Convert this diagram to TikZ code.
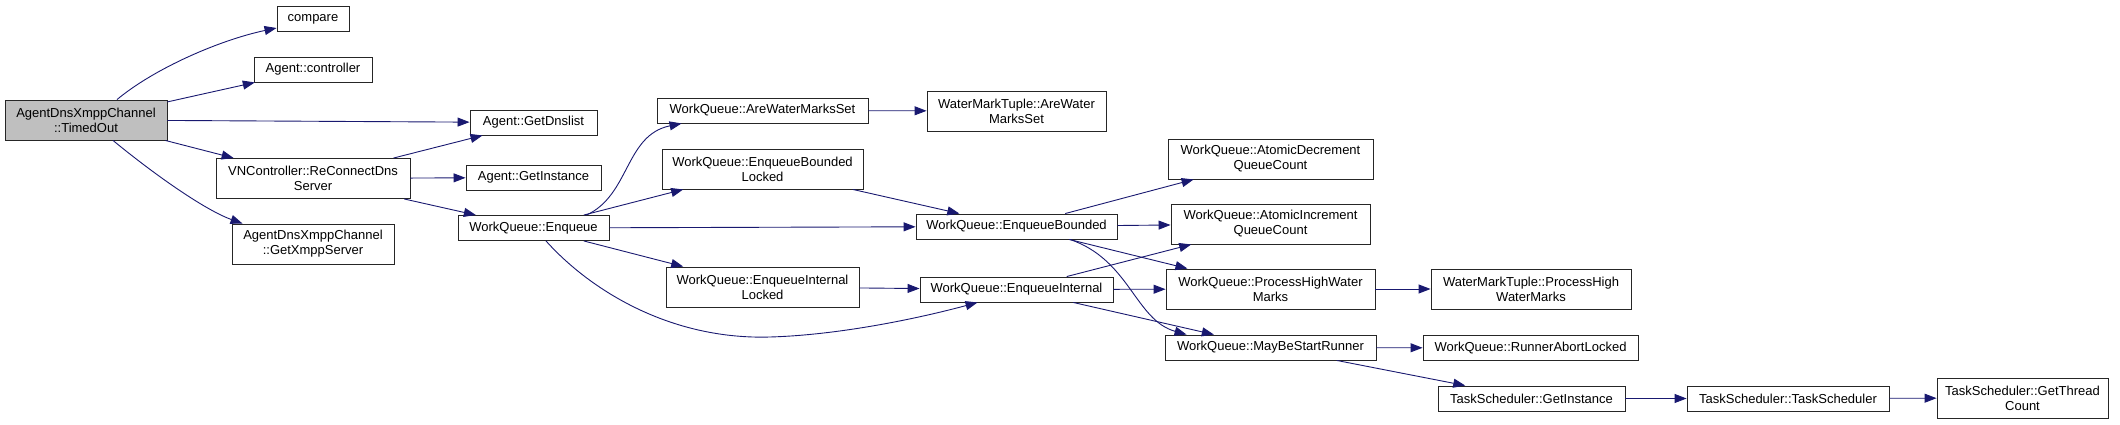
\documentclass[tikz,border=0pt]{standalone}
\usepackage{fontspec}
\setmainfont{Liberation Sans}
\usetikzlibrary{arrows.meta, positioning}
\definecolor{callblue}{HTML}{191970}

\begin{document}
\begin{tikzpicture}[x=1pt, y=1pt,
  >={Triangle[length=12pt, width=9pt]},
  fn/.style={draw=black!85, line width=0.9pt, font=\fontsize{13}{15}\selectfont, inner sep=2pt, minimum height=25pt, align=center},
  two/.style={fn, minimum height=40pt},
  root/.style={two, fill=gray!50},
  call/.style={->, draw=callblue, line width=0.9pt}]
\useasboundingbox (0,0) rectangle (2120,-425);
% functions
\node[root, minimum width=162pt] (timed) at (86,-120) {AgentDnsXmppChannel\\::TimedOut};
\node[fn, minimum width=72pt] (cmp) at (313,-19) {compare};
\node[fn, minimum width=118pt] (ctrl) at (313,-69.5) {Agent::controller};
\node[two, minimum width=194pt] (reconn) at (313,-178.5) {VNController::ReConnectDns\\Server};
\node[two, minimum width=162pt] (xmpp) at (313,-244) {AgentDnsXmppChannel\\::GetXmppServer};
\node[fn, minimum width=127pt] (dnslist) at (533.5,-122.5) {Agent::GetDnslist};
\node[fn, minimum width=135pt] (aginst) at (533.5,-177.5) {Agent::GetInstance};
\node[fn, minimum width=151pt] (enq) at (533.5,-228) {WorkQueue::Enqueue};
\node[fn, minimum width=211pt] (arewm) at (762.5,-110.5) {WorkQueue::AreWaterMarksSet};
\node[two, minimum width=201pt] (ebl) at (762.5,-169) {WorkQueue::EnqueueBounded\\Locked};
\node[two, minimum width=193pt] (eil) at (762.5,-287) {WorkQueue::EnqueueInternal\\Locked};
\node[two, minimum width=179pt] (wmtare) at (1016.5,-111) {WaterMarkTuple::AreWater\\MarksSet};
\node[fn, minimum width=201pt] (ebnd) at (1016.5,-226.5) {WorkQueue::EnqueueBounded};
\node[fn, minimum width=193pt] (eint) at (1016.5,-289.5) {WorkQueue::EnqueueInternal};
\node[two, minimum width=205pt] (adec) at (1270.5,-159) {WorkQueue::AtomicDecrement\\QueueCount};
\node[two, minimum width=199pt] (ainc) at (1270.5,-224) {WorkQueue::AtomicIncrement\\QueueCount};
\node[two, minimum width=209pt] (phwm) at (1270.5,-289) {WorkQueue::ProcessHighWater\\Marks};
\node[fn, minimum width=211pt] (maybe) at (1270.5,-347.5) {WorkQueue::MayBeStartRunner};
\node[two, minimum width=200pt] (wmtphwm) at (1531,-289) {WaterMarkTuple::ProcessHigh\\WaterMarks};
\node[fn, minimum width=215pt] (rabort) at (1530.5,-348) {WorkQueue::RunnerAbortLocked};
\node[fn, minimum width=187pt] (tsinst) at (1531.5,-398.5) {TaskScheduler::GetInstance};
\node[fn, minimum width=202pt] (tsched) at (1788,-398.5) {TaskScheduler::TaskScheduler};
\node[two, minimum width=171pt] (tcount) at (2022.5,-398) {TaskScheduler::GetThread\\Count};
% calls
\draw[call] ([xshift=31pt]timed.north) .. controls (155,-68) and (220,-40) .. ([yshift=-9pt]cmp.west);
\draw[call] (timed) -- (ctrl);
\draw[call] (timed) -- (dnslist);
\draw[call] (timed) -- (reconn);
\draw[call] ([xshift=27pt]timed.south) .. controls (155,-175) and (205,-210) .. ([xshift=11pt]xmpp.north west);
\draw[call] (reconn) -- (dnslist);
\draw[call] (reconn) -- (aginst);
\draw[call] (reconn) -- (enq);
\draw[call] ([xshift=53pt]enq.north) .. controls (630,-195) and (625,-135) .. ([xshift=25pt]arewm.south west);
\draw[call] (enq) -- (ebl);
\draw[call] (enq) -- (ebnd);
\draw[call] (enq) -- (eil);
\draw[call] ([xshift=12.5pt]enq.south) .. controls (590,-290) and (670,-340) .. (770,-337)
  .. controls (840,-335) and (920,-318) .. ([xshift=58pt]eint.south west);
\draw[call] (arewm) -- (wmtare);
\draw[call] (ebl) -- (ebnd);
\draw[call] (eil) -- (eint);
\draw[call] (ebnd) -- (adec);
\draw[call] (ebnd) -- (ainc);
\draw[call] (ebnd) -- (phwm);
\draw[call] ([xshift=53.5pt]ebnd.south) .. controls (1130,-260) and (1135,-320) .. ([xshift=22pt]maybe.north west);
\draw[call] (eint) -- (ainc);
\draw[call] (eint) -- (phwm);
\draw[call] (eint) -- (maybe);
\draw[call] (phwm) -- (wmtphwm);
\draw[call] (maybe) -- (rabort);
\draw[call] (maybe) -- (tsinst);
\draw[call] (tsinst) -- (tsched);
\draw[call] (tsched) -- (tcount);
\end{tikzpicture}
\end{document}
